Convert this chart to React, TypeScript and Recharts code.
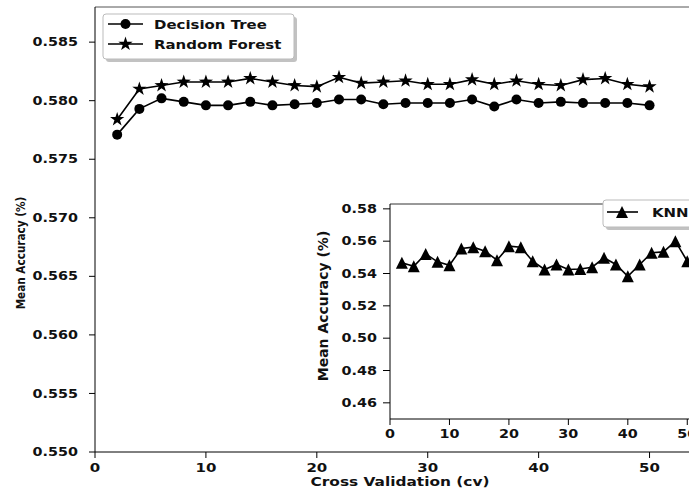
import React from "react"
import { LineChart, Line, XAxis, YAxis, ReferenceLine } from "recharts"

const cvFolds = [2, 4, 6, 8, 10, 12, 14, 16, 18, 20, 22, 24, 26, 28, 30, 32, 34, 36, 38, 40, 42, 44, 46, 48, 50]

const decisionTree = [
  0.5771, 0.5793, 0.5802, 0.5799, 0.5796, 0.5796, 0.5799, 0.5796, 0.5797, 0.5798, 0.5801, 0.5801, 0.5797,
  0.5798, 0.5798, 0.5798, 0.5801, 0.5795, 0.5801, 0.5798, 0.5799, 0.5798, 0.5798, 0.5798, 0.5796,
]
const randomForest = [
  0.5784, 0.581, 0.5813, 0.5816, 0.5816, 0.5816, 0.5819, 0.5816, 0.5813, 0.5812, 0.582, 0.5815, 0.5816,
  0.5817, 0.5814, 0.5814, 0.5818, 0.5814, 0.5817, 0.5814, 0.5813, 0.5818, 0.5819, 0.5814, 0.5812,
]
const knn = [
  0.5466, 0.5445, 0.5521, 0.5472, 0.5451, 0.5555, 0.5563, 0.5538, 0.5482, 0.5569, 0.5563, 0.5476, 0.5425,
  0.5456, 0.5425, 0.5428, 0.5439, 0.5497, 0.5456, 0.5383, 0.5456, 0.5528, 0.5534, 0.56, 0.5476,
]

const xTicks = [0, 10, 20, 30, 40, 50]
const mainYTicks = [0.55, 0.555, 0.56, 0.565, 0.57, 0.575, 0.58, 0.585]
const insetYTicks = [0.46, 0.48, 0.5, 0.52, 0.54, 0.56, 0.58]

const data = cvFolds.map((cv, i) => ({ cv, dt: decisionTree[i], rf: randomForest[i], knn: knn[i] }))

const FONT = '"DejaVu Sans", sans-serif'
const INK = "#111"

function SText({ x, y, anchor = "middle", size = 12, dy = 0, sx = 1.25, children }: any) {
  return (
    <g transform={`translate(${x},${y}) scale(${sx},1)`}>
      <text x={0} y={0} dy={dy} textAnchor={anchor} fontSize={size} fontWeight="bold" fontFamily={FONT} fill={INK}>
        {children}
      </text>
    </g>
  )
}

function Circle({ cx, cy }: any) {
  return <circle cx={cx} cy={cy} r={5} fill="#000" />
}

function Star({ cx, cy }: any) {
  const pts: string[] = []
  for (let k = 0; k < 10; k++) {
    const r = k % 2 === 0 ? 7.5 : 2.9
    const a = -Math.PI / 2 + (k * Math.PI) / 5
    pts.push(`${cx + r * Math.cos(a)},${cy + r * Math.sin(a)}`)
  }
  return <polygon points={pts.join(" ")} fill="#000" />
}

function Triangle({ cx, cy }: any) {
  const h = 6
  return <polygon points={`${cx},${cy - h} ${cx - h},${cy + h} ${cx + h},${cy + h}`} fill="#000" />
}

const yTick = (digits: number, size: number) => (p: any) => (
  <SText x={p.x} y={p.y} anchor="end" size={size} dy="0.36em">
    {Number(p.payload.value).toFixed(digits)}
  </SText>
)

const xTick = (size: number) => (p: any) => (
  <SText x={p.x} y={p.y} anchor="middle" size={size} dy="0.71em">
    {p.payload.value}
  </SText>
)

export default function App() {
  return (
    <div style={{ position: "absolute", left: 0, top: 0, width: 689, height: 493, overflow: "hidden", background: "#fff" }}>
      <div style={{ position: "absolute", left: 0, top: 0 }}>
        <LineChart width={720} height={493} data={data} margin={{ top: 7, right: 15, bottom: 0, left: 0 }}>
          <XAxis
            dataKey="cv"
            type="number"
            domain={[0, 55]}
            ticks={xTicks}
            height={41}
            stroke="#000"
            tickSize={6}
            tickMargin={5}
            tick={xTick(12)}
          />
          <YAxis
            type="number"
            domain={[0.55, 0.588]}
            ticks={mainYTicks}
            width={95}
            stroke="#000"
            tickSize={6}
            tickMargin={11}
            tick={yTick(3, 11.5)}
            allowDataOverflow
          />
          <ReferenceLine y={0.588} stroke="#555" strokeWidth={1} />
          <Line
            dataKey="dt"
            stroke="#000"
            strokeWidth={1.6}
            dot={(p: any) => <Circle key={`dt${p.index}`} cx={p.cx} cy={p.cy} />}
            isAnimationActive={false}
          />
          <Line
            dataKey="rf"
            stroke="#000"
            strokeWidth={1.6}
            dot={(p: any) => <Star key={`rf${p.index}`} cx={p.cx} cy={p.cy} />}
            isAnimationActive={false}
          />
        </LineChart>
      </div>

      <div style={{ position: "absolute", left: 310, top: 199 }}>
        <LineChart width={420} height={245} data={data} margin={{ top: 5, right: 13, bottom: 0, left: 0 }}>
          <XAxis
            dataKey="cv"
            type="number"
            domain={[0, 55]}
            ticks={xTicks}
            height={25}
            stroke="#000"
            tickSize={6}
            tickMargin={5}
            tick={xTick(11.5)}
          />
          <YAxis
            type="number"
            domain={[0.45, 0.583]}
            ticks={insetYTicks}
            width={80}
            stroke="#000"
            tickSize={7}
            tickMargin={6}
            tick={yTick(2, 11.5)}
            allowDataOverflow
          />
          <ReferenceLine y={0.583} stroke="#333" strokeWidth={1} />
          <Line
            dataKey="knn"
            stroke="#000"
            strokeWidth={1.6}
            dot={(p: any) => <Triangle key={`kn${p.index}`} cx={p.cx} cy={p.cy} />}
            isAnimationActive={false}
          />
        </LineChart>
      </div>

      <svg width={689} height={493} style={{ position: "absolute", left: 0, top: 0, pointerEvents: "none" }}>
        {/* axis titles */}
        <SText x={400} y={486} size={12.5} sx={1.23}>
          Cross Validation (cv)
        </SText>
        <g transform="translate(21,253) scale(1.15,1) rotate(-90)">
          <text textAnchor="middle" dominantBaseline="central" fontSize={10.5} fontWeight="bold" fontFamily={FONT} fill={INK}>
            Mean Accuracy (%)
          </text>
        </g>
        <g transform="translate(323,306) rotate(-90)">
          <text textAnchor="middle" dominantBaseline="central" fontSize={14} fontWeight="bold" fontFamily={FONT} fill={INK}>
            Mean Accuracy (%)
          </text>
        </g>

        {/* main legend */}
        <rect x={106} y={17} width={191} height={45} rx={3} fill="#999" opacity={0.6} />
        <rect x={103} y={14} width={191} height={45} rx={3} fill="#fff" stroke="#bbb" />
        <line x1={108} x2={143} y1={24} y2={24} stroke="#000" strokeWidth={1.6} />
        <Circle cx={125.5} cy={24} />
        <SText x={154} y={29} anchor="start" size={11.5} sx={1.3}>
          Decision Tree
        </SText>
        <line x1={108} x2={143} y1={44} y2={44} stroke="#000" strokeWidth={1.6} />
        <Star cx={125.5} cy={44} />
        <SText x={154} y={49} anchor="start" size={11.5} sx={1.3}>
          Random Forest
        </SText>

        {/* inset legend */}
        <rect x={606} y={203} width={110} height={27} rx={3} fill="#999" opacity={0.6} />
        <rect x={603} y={200} width={110} height={27} rx={3} fill="#fff" stroke="#bbb" />
        <line x1={607} x2={638} y1={212} y2={212} stroke="#000" strokeWidth={1.6} />
        <Triangle cx={622} cy={212} />
        <SText x={652} y={217} anchor="start" size={11.5} sx={1.3}>
          KNN
        </SText>
      </svg>
    </div>
  )
}
